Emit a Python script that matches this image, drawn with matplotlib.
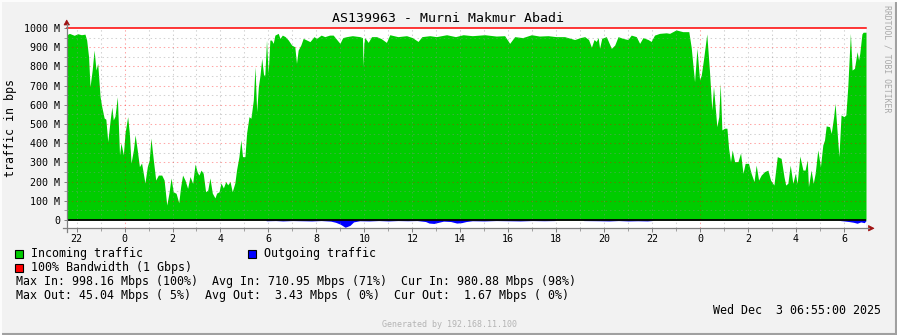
import matplotlib
matplotlib.use("Agg")
import matplotlib.pyplot as plt
from matplotlib.patches import Rectangle, Polygon
from matplotlib.lines import Line2D

# ---------------- data (hours relative to Dec 2 00:00; Mbps) ----------------
in_hours = [-2.40, -2.30, -2.10, -1.95, -1.80, -1.65, -1.58, -1.50, -1.44, -1.35,
            -1.27, -1.19, -1.12, -1.02, -0.95, -0.85, -0.78, -0.70, -0.60, -0.53,
            -0.47, -0.40, -0.30, -0.21, -0.15, -0.05, 0.02, 0.13, 0.20, 0.27,
            0.37, 0.44, 0.53, 0.62, 0.71, 0.85, 0.95, 1.03, 1.10, 1.20,
            1.30, 1.41, 1.55, 1.65, 1.76, 1.85, 1.94, 2.03, 2.15, 2.26,
            2.34, 2.42, 2.52, 2.63, 2.73, 2.84, 2.94, 3.03, 3.10, 3.19,
            3.28, 3.38, 3.47, 3.56, 3.66, 3.77, 3.84, 3.94, 4.02, 4.12,
            4.22, 4.30, 4.40, 4.49, 4.60, 4.67, 4.77, 4.85, 4.92, 5.02,
            5.09, 5.19, 5.27, 5.37, 5.44, 5.51, 5.58, 5.65, 5.72, 5.80,
            5.85, 5.92, 5.99, 6.06, 6.13, 6.20, 6.27, 6.41, 6.48, 6.58,
            6.70, 6.83, 6.97, 7.10, 7.17, 7.24, 7.35, 7.45, 7.60, 7.73,
            7.90, 8.01, 8.20, 8.35, 8.55, 8.70, 8.98, 9.10, 9.26, 9.50,
            9.81, 9.92, 9.95, 9.98, 10.02, 10.16, 10.30, 10.51, 10.70, 10.92,
            11.06, 11.40, 11.76, 12.00, 12.24, 12.40, 12.73, 13.00, 13.43, 13.80,
            14.12, 14.50, 15.02, 15.50, 15.85, 16.06, 16.27, 16.60, 16.97, 17.30,
            17.66, 18.00, 18.35, 18.77, 19.00, 19.19, 19.35, 19.47, 19.58, 19.67,
            19.75, 19.81, 19.90, 20.09, 20.30, 20.44, 20.58, 20.78, 20.99, 21.13,
            21.34, 21.48, 21.62, 21.83, 21.96, 22.10, 22.31, 22.59, 22.73, 23.00,
            23.28, 23.53, 23.63, 23.77, 23.87, 23.98, 24.05, 24.14, 24.28, 24.39,
            24.49, 24.56, 24.70, 24.78, 24.84, 24.91, 25.02, 25.12, 25.19, 25.27,
            25.34, 25.44, 25.58, 25.69, 25.79, 25.88, 26.02, 26.13, 26.25, 26.34,
            26.44, 26.55, 26.69, 26.83, 26.94, 27.08, 27.22, 27.38, 27.50, 27.57,
            27.66, 27.76, 27.87, 27.97, 28.05, 28.16, 28.29, 28.38, 28.47, 28.52,
            28.63, 28.72, 28.80, 28.91, 29.02, 29.12, 29.19, 29.26, 29.40, 29.47,
            29.57, 29.63, 29.70, 29.79, 29.88, 30.00, 30.08, 30.16, 30.27, 30.34,
            30.44, 30.55, 30.61, 30.66, 30.75, 30.80, 30.92]
in_mbps = [965, 972, 962, 970, 965, 968, 937, 850, 694, 780,
           885, 781, 816, 642, 590, 531, 525, 408, 521, 589,
           521, 540, 642, 339, 401, 339, 453, 538, 453, 297,
           365, 443, 365, 278, 297, 193, 278, 313, 427, 313,
           208, 234, 234, 208, 78, 139, 219, 147, 139, 90,
           174, 234, 208, 165, 226, 191, 292, 250, 234, 260,
           243, 147, 156, 219, 140, 115, 140, 147, 193, 167,
           200, 183, 200, 147, 193, 260, 330, 417, 330, 330,
           453, 538, 530, 625, 798, 564, 694, 755, 842, 755,
           755, 937, 764, 937, 937, 920, 963, 972, 946, 963,
           955, 937, 911, 902, 816, 885, 911, 946, 937, 929,
           955, 946, 963, 955, 963, 963, 920, 950, 955, 960,
           955, 950, 800, 920, 950, 925, 955, 955, 945, 925,
           965, 955, 960, 950, 930, 955, 960, 955, 965, 955,
           965, 960, 965, 958, 960, 920, 955, 950, 965, 958,
           960, 955, 955, 940, 950, 955, 940, 900, 940, 930,
           950, 895, 946, 955, 894, 911, 955, 946, 940, 963,
           955, 920, 950, 940, 930, 963, 972, 975, 972, 990,
           981, 981, 900, 720, 894, 729, 755, 833, 969, 781,
           573, 694, 486, 538, 712, 469, 478, 478, 373, 304,
           365, 304, 304, 349, 243, 295, 295, 243, 200, 286,
           208, 234, 252, 260, 208, 182, 330, 321, 226, 182,
           191, 286, 191, 243, 191, 333, 260, 260, 313, 174,
           260, 191, 243, 365, 278, 391, 417, 490, 486, 451,
           538, 608, 486, 330, 547, 538, 547, 694, 972, 781,
           790, 877, 833, 868, 969, 978, 978]

out_hours = [-2.40, 5.85, 5.92, 6.30, 6.60, 7.00, 7.40, 7.80, 8.20, 8.60,
             8.80, 9.00, 9.20, 9.40, 9.55, 9.80, 10.20, 10.60, 11.00, 11.40,
             11.80, 12.20, 12.55, 12.70, 12.90, 13.10, 13.30, 13.60, 13.85, 14.05,
             14.25, 14.50, 15.00, 15.50, 16.00, 16.50, 17.00, 17.50, 17.95, 18.00,
             19.10, 19.15, 19.80, 20.20, 20.60, 21.00, 21.40, 21.80, 22.00, 22.05,
             29.75, 29.85, 30.00, 30.20, 30.40, 30.55, 30.70, 30.85, 30.92]
out_mbps = [0, 0, 4, 3, 5, 3, 4, 5, 3, 6,
            12, 22, 38, 28, 10, 4, 5, 3, 5, 3,
            4, 3, 8, 16, 18, 12, 6, 8, 16, 14,
            8, 4, 5, 3, 4, 5, 3, 4, 3, 0,
            0, 3, 4, 5, 3, 5, 4, 5, 3, 0,
            0, 3, 5, 8, 12, 17, 10, 14, 3]

bandwidth = 1000
x_tick_hours = list(range(-2, 31, 2))
x_tick_labels = ['22', '0', '2', '4', '6', '8', '10', '12', '14', '16', '18',
                 '20', '22', '0', '2', '4', '6']
y_tick_values = list(range(0, 1001, 100))
y_tick_labels = ['0'] + ['%d M' % v for v in y_tick_values[1:]]

title = 'AS139963 - Murni Makmur Abadi'
legend_lines = [
    'Max In: 998.16 Mbps (100%)  Avg In: 710.95 Mbps (71%)  Cur In: 980.88 Mbps (98%)',
    'Max Out: 45.04 Mbps ( 5%)  Avg Out:  3.43 Mbps ( 0%)  Cur Out:  1.67 Mbps ( 0%)',
]
date_text = 'Wed Dec  3 06:55:00 2025'

# ---------------- drawing ----------------
W, H = 897, 335
MONO = 'DejaVu Sans Mono'
BG = '#F2F2F2'
GREEN = '#00CC00'
BLUE = '#0000FF'
RED = '#FF0000'
LEG_FS = 8.37

fig = plt.figure(figsize=(W / 100, H / 100), dpi=100, facecolor=BG)


def fx(x):
    return x / W


def fy(y):
    return 1 - y / H


ax = fig.add_axes([fx(67), fy(228), (866 - 67) / W, 200 / H])
ax.set_facecolor('white')
ax.set_xlim(-2.40, 30.92)
ax.set_ylim(-41.7, 1000)

ax.fill_between(in_hours, 0, in_mbps, color=GREEN, lw=0, zorder=2)
ax.fill_between(out_hours, 0, [-v for v in out_mbps], color=BLUE, lw=0, zorder=2)

# grid on top (semi-transparent)
dash = (0, (1.4, 2.8))
for h in range(-2, 31):
    if h % 24 == 0:
        ax.axvline(h, color=RED, alpha=0.35, lw=0.75, ls=dash, zorder=3)
    else:
        ax.axvline(h, color='#909090', alpha=0.4, lw=0.75, ls=dash, zorder=3)
for v in range(50, 1000, 50):
    if v % 100 == 0:
        ax.axhline(v, color=RED, alpha=0.35, lw=0.75, ls=dash, zorder=3)
    else:
        ax.axhline(v, color='#909090', alpha=0.4, lw=0.75, ls=dash, zorder=3)

ax.axhline(0, color='black', lw=1.3, zorder=4)
ax.axhline(bandwidth, color=RED, lw=1.1, zorder=4, clip_on=False)

for s in ax.spines.values():
    s.set_visible(False)

ax.set_xticks(x_tick_hours)
ax.set_xticklabels(x_tick_labels, fontsize=7.2, family=MONO)
ax.set_xticks(list(range(-2, 31)), minor=True)
ax.set_yticks(y_tick_values)
ax.set_yticklabels(y_tick_labels, fontsize=7.2, family=MONO)
ax.set_yticks(list(range(50, 1000, 100)), minor=True)
ax.tick_params(axis='x', which='major', length=3, width=0.7, color='#808080', pad=1.5)
ax.tick_params(axis='x', which='minor', length=2, width=0.7, color='#A0A0A0')
ax.tick_params(axis='y', which='major', length=2, width=0.7, color='#808080', pad=3)
ax.tick_params(axis='y', which='minor', length=2, width=0.7, color='#A0A0A0')

# axis lines with arrows
fig.lines.append(Line2D([fx(66.5), fx(66.5)], [fy(232), fy(24)], transform=fig.transFigure,
                        color='#808080', lw=0.9))
fig.lines.append(Line2D([fx(63), fx(869)], [fy(228.3), fy(228.3)], transform=fig.transFigure,
                        color='#808080', lw=0.9))
fig.patches.append(Polygon([(fx(64), fy(25)), (fx(69.5), fy(25)), (fx(66.7), fy(20))],
                           closed=True, transform=fig.transFigure, fc='#A01010', ec='#A01010', lw=0.5))
fig.patches.append(Polygon([(fx(868.5), fy(225.5)), (fx(868.5), fy(231)), (fx(874), fy(228.3))],
                           closed=True, transform=fig.transFigure, fc='#A01010', ec='#A01010', lw=0.5))

# texts
fig.text(fx(448), fy(19), title, fontsize=9.5, family=MONO, ha='center', va='center')
fig.text(fx(11), fy(128), 'traffic in bps', fontsize=LEG_FS, family=MONO, rotation=90,
         ha='center', va='center')
fig.text(fx(887), fy(59), 'RRDTOOL / TOBI OETIKER', fontsize=5.9, family=MONO, rotation=270,
         ha='center', va='center', color='#A8A8A8')

legend_items = [(15, 254, GREEN, 'Incoming traffic'),
                (248, 254, BLUE, 'Outgoing traffic'),
                (15, 268, RED, '100% Bandwidth (1 Gbps)')]
for x0, yc, col, label in legend_items:
    fig.patches.append(Rectangle((fx(x0), fy(yc + 4)), 8 / W, 8 / H, transform=fig.transFigure,
                                 fc=col, ec='black', lw=0.8))
    fig.text(fx(x0 + 15.5), fy(yc), label, fontsize=LEG_FS, family=MONO, ha='left', va='center')

for i, line in enumerate(legend_lines):
    fig.text(fx(16), fy(282 + 14 * i), line, fontsize=LEG_FS, family=MONO, ha='left', va='center')

fig.text(fx(880.5), fy(310), date_text, fontsize=LEG_FS, family=MONO, ha='right', va='center')
fig.text(fx(449), fy(324.5), 'Generated by 192.168.11.100', fontsize=6, family=MONO,
         ha='center', va='center', color='#B4B4B4')

# 3D frame
fig.lines.append(Line2D([0, 1], [fy(333.5), fy(333.5)], transform=fig.transFigure,
                        color='#A0A0A0', lw=1.5))
fig.lines.append(Line2D([fx(895.5), fx(895.5)], [0, 1], transform=fig.transFigure,
                        color='#A0A0A0', lw=1.5))
fig.lines.append(Line2D([0, 1], [fy(0.7), fy(0.7)], transform=fig.transFigure,
                        color='#FCFCFC', lw=1.5))
fig.lines.append(Line2D([fx(0.7), fx(0.7)], [0, 1], transform=fig.transFigure,
                        color='#FCFCFC', lw=1.5))

fig.savefig('out.png', dpi=100, facecolor=BG)
